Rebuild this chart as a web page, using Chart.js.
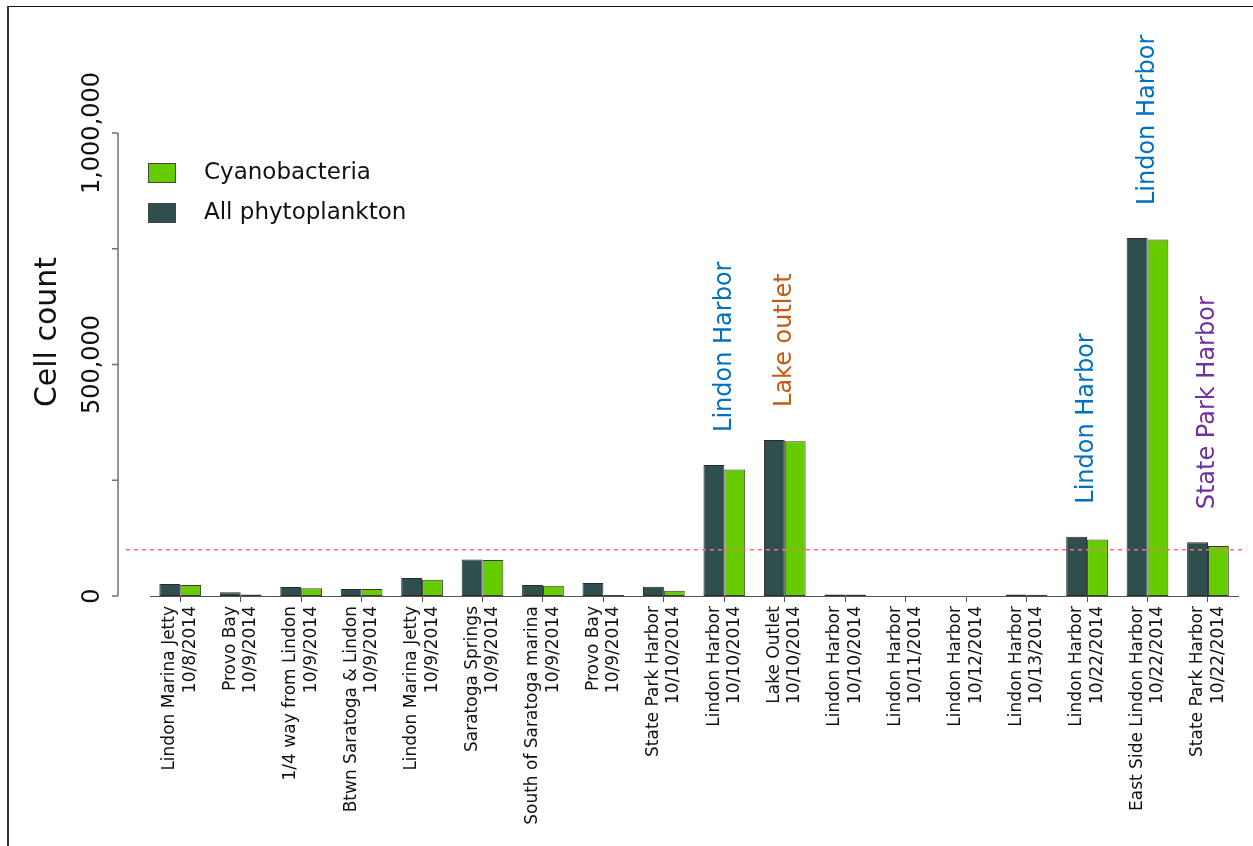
<!DOCTYPE html>
<html>
<head>
<meta charset="utf-8">
<script src="https://cdn.jsdelivr.net/npm/chart.js@4.4.1/dist/chart.umd.min.js"></script>
<style>
  html, body { margin: 0; padding: 0; background: #ffffff; }
  #wrap { position: relative; width: 1253px; height: 846px; overflow: hidden; background: #ffffff; }
  #frame { position: absolute; left: 7px; top: 6px; right: -10px; bottom: -10px;
           border-left: 2px solid #333; border-top: 1px solid #111; }
  #c { position: absolute; left: 0; top: 0; }
</style>
</head>
<body>
<div id="wrap">
  <div id="frame"></div>
  <canvas id="c" width="1253" height="846"></canvas>
</div>
<script>
// ---- data ----
const locations = [
  "Lindon Marina Jetty", "Provo Bay", "1/4 way from Lindon", "Btwn Saratoga & Lindon",
  "Lindon Marina Jetty", "Saratoga Springs", "South of Saratoga marina", "Provo Bay",
  "State Park Harbor", "Lindon Harbor", "Lake Outlet", "Lindon Harbor",
  "Lindon Harbor", "Lindon Harbor", "Lindon Harbor", "Lindon Harbor",
  "East Side Lindon Harbor", "State Park Harbor"
];
const dates = [
  "10/8/2014", "10/9/2014", "10/9/2014", "10/9/2014",
  "10/9/2014", "10/9/2014", "10/9/2014", "10/9/2014",
  "10/10/2014", "10/10/2014", "10/10/2014", "10/10/2014",
  "10/11/2014", "10/12/2014", "10/13/2014", "10/22/2014",
  "10/22/2014", "10/22/2014"
];
const allPhytoplankton = [26000, 8000, 19500, 15000, 39000, 79000, 24000, 28000, 20000,
                          283000, 337000, 3500, 0, 0, 3000, 128000, 773000, 116000];
const cyanobacteria    = [24000, 3000, 17000, 15000, 35000, 78000, 22000, 2000, 11500,
                          273000, 334000, 3000, 0, 0, 2500, 122000, 770000, 108000];
const yTickValues   = [0, 250000, 500000, 750000, 1000000];
const yLabelValues  = [0, 500000, 1000000];
const yLabelTexts   = ["0", "500,000", "1,000,000"];
const thresholdValue = 100000;
const annotIndex  = [9, 10, 15, 16, 17];
const annotText   = ["Lindon Harbor", "Lake outlet", "Lindon Harbor", "Lindon Harbor", "State Park Harbor"];
const annotColor  = ["#0070C0", "#C55A11", "#0070C0", "#0070C0", "#7030A0"];
const seriesNames = ["All phytoplankton", "Cyanobacteria"];
const axisTitle = "Cell count";

const FONT = "'DejaVu Sans', 'Liberation Sans', sans-serif";
const TICK_SIZE = 17, TICK_LH = 1.2;
const labels = locations.map((l, i) => [l, dates[i]]);

const decorPlugin = {
  id: 'decor',
  beforeDraw(chart) {
    // centre the two-line rotated category labels on their tick marks
    const xs = chart.scales.x;
    const items = xs.getLabelItems();
    if (items && !items._centred) {
      const shift = TICK_SIZE * TICK_LH / 2;
      items.forEach(it => { it.options.translation[0] -= shift; });
      items._centred = true;
    }
  },
  afterDatasetsDraw(chart) {
    const ctx = chart.ctx;
    const x = chart.scales.x, y = chart.scales.y;
    const area = chart.chartArea;
    ctx.save();
    // threshold dashed line
    const ty = y.getPixelForValue(thresholdValue);
    ctx.strokeStyle = '#FF7070';
    ctx.lineWidth = 1.5;
    ctx.setLineDash([4, 4]);
    ctx.beginPath();
    ctx.moveTo(126, ty);
    ctx.lineTo(area.right + 8, ty);
    ctx.stroke();
    ctx.setLineDash([]);

    // annotations above bars
    ctx.font = "24px " + FONT;
    ctx.textAlign = 'left';
    ctx.textBaseline = 'middle';
    annotIndex.forEach((idx, k) => {
      const px = x.getPixelForValue(idx);
      const top = y.getPixelForValue(Math.max(allPhytoplankton[idx], cyanobacteria[idx])) - 33;
      ctx.save();
      ctx.translate(px, top);
      ctx.rotate(-Math.PI / 2);
      ctx.fillStyle = annotColor[k];
      ctx.fillText(annotText[k], 0, 0);
      ctx.restore();
    });
    ctx.restore();
  },
  afterDraw(chart) {
    const ctx = chart.ctx;
    const y = chart.scales.y;
    const axisX = 118;
    ctx.save();
    // y axis line + ticks
    ctx.strokeStyle = '#707070';
    ctx.lineWidth = 1.5;
    ctx.beginPath();
    ctx.moveTo(axisX, y.getPixelForValue(0));
    ctx.lineTo(axisX, y.getPixelForValue(1000000));
    yTickValues.forEach(v => {
      const py = y.getPixelForValue(v);
      ctx.moveTo(axisX, py);
      ctx.lineTo(axisX - 6, py);
    });
    ctx.stroke();
    // y labels rotated
    ctx.fillStyle = '#111';
    ctx.font = "24px " + FONT;
    ctx.textAlign = 'center';
    ctx.textBaseline = 'middle';
    yLabelValues.forEach((v, i) => {
      const py = y.getPixelForValue(v);
      ctx.save();
      ctx.translate(93, py);
      ctx.rotate(-Math.PI / 2);
      ctx.fillText(yLabelTexts[i], 0, 0);
      ctx.restore();
    });
    // axis title
    ctx.font = "30px " + FONT;
    ctx.save();
    ctx.translate(48, 332);
    ctx.rotate(-Math.PI / 2);
    ctx.fillText(axisTitle, 0, 0);
    ctx.restore();

    // legend (Cyanobacteria first, then All phytoplankton)
    const order = [1, 0];
    ctx.font = "23px " + FONT;
    ctx.textAlign = 'left';
    ctx.textBaseline = 'middle';
    order.forEach((di, row) => {
      const ds = chart.data.datasets[di];
      const bx = 148, by = 163 + row * 40;
      ctx.fillStyle = ds.backgroundColor;
      ctx.fillRect(bx, by, 28, 20);
      ctx.strokeStyle = '#444';
      ctx.lineWidth = 1;
      ctx.strokeRect(bx + 0.5, by + 0.5, 27, 19);
      ctx.fillStyle = '#111';
      ctx.fillText(ds.label, 204, by + 10);
    });
    ctx.restore();
  }
};

new Chart(document.getElementById('c'), {
  type: 'bar',
  data: {
    labels: labels,
    datasets: [
      { label: seriesNames[0], data: allPhytoplankton, backgroundColor: '#2F4F4F',
        borderColor: '#2a2a2a', borderWidth: 1, borderSkipped: false },
      { label: seriesNames[1], data: cyanobacteria, backgroundColor: '#66CC00',
        borderColor: '#3a3a3a', borderWidth: 1, borderSkipped: false }
    ]
  },
  options: {
    responsive: false,
    animation: false,
    devicePixelRatio: 1,
    layout: { padding: { left: 150, right: 8, top: 133, bottom: 0 } },
    datasets: { bar: { categoryPercentage: 0.69, barPercentage: 1.0 } },
    plugins: { legend: { display: false }, tooltip: { enabled: false } },
    scales: {
      x: {
        offset: true,
        grid: { display: true, drawOnChartArea: false, drawTicks: true, tickLength: 6,
                color: '#555', offset: false, lineWidth: 1 },
        border: { display: true, color: '#555', width: 1 },
        ticks: { minRotation: 90, maxRotation: 90, autoSkip: false, padding: 4,
                 color: '#111', font: { family: FONT, size: TICK_SIZE, lineHeight: TICK_LH } },
        afterFit(scale) { scale.height = 250; }
      },
      y: {
        display: false,
        min: 0, max: 1000000,
        ticks: { stepSize: 250000 }
      }
    }
  },
  plugins: [decorPlugin]
});
</script>
</body>
</html>
